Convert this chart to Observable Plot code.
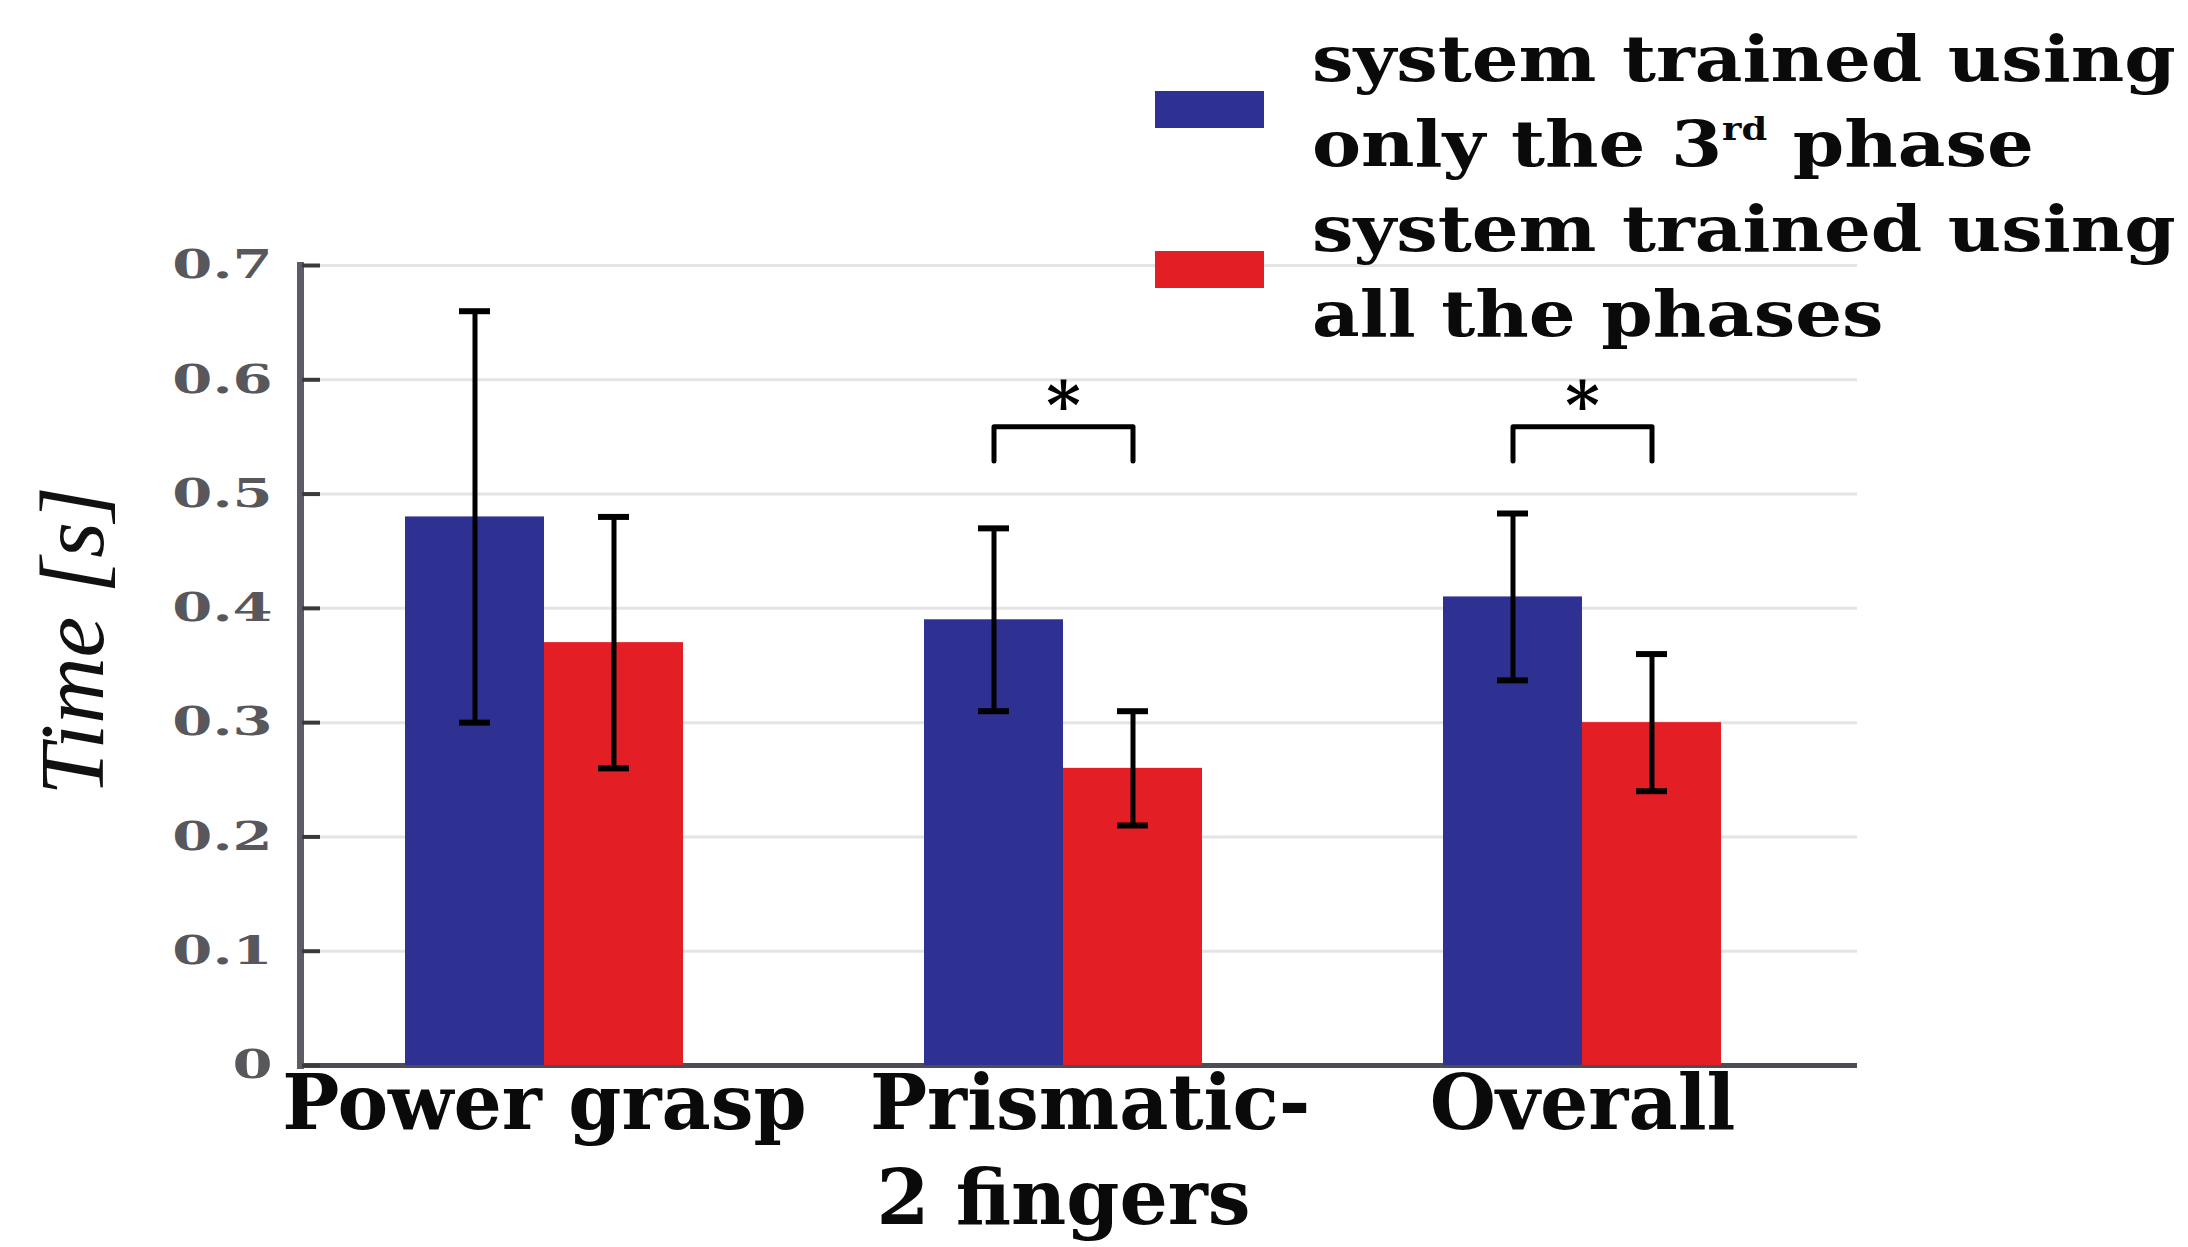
<!DOCTYPE html>
<html><head><meta charset="utf-8">
<script src="https://cdn.jsdelivr.net/npm/d3@7"></script>
<script src="https://cdn.jsdelivr.net/npm/@observablehq/plot@0.6"></script>
<style>
html,body{margin:0;padding:0;background:#fff;}
#wrap{position:relative;width:2188px;height:1247px;overflow:hidden;background:#fff;}
#chart svg{display:block;}
.sw{position:absolute;}
.lt{position:absolute;left:1312px;top:16px;font-family:"DejaVu Serif";font-weight:bold;font-size:64px;line-height:85px;color:#0a0a0a;white-space:nowrap;transform:scaleX(1.15);transform-origin:0 0;}
.lt sup{font-size:0.5em;line-height:0;vertical-align:0.8em;}
</style></head>
<body><div id="wrap"><div id="chart"></div><div id="legend"></div></div>
<script>
// ---- data ----
const groups = ["Power grasp", "Prismatic-2 fingers", "Overall"];
const groupLabels = ["Power grasp", "\u2002\u2009Prismatic-\n2 fingers", "Overall"];
const series = ["3rd phase only", "all phases"];
const seriesColors = ["#2E3192", "#E31E24"];
const legendLines = [["system trained using", "only the 3<sup>rd</sup> phase"], ["system trained using", "all the phases"]];
const meanThird = [0.48, 0.39, 0.41];
const lowThird  = [0.30, 0.31, 0.337];
const highThird = [0.66, 0.47, 0.483];
const meanAll = [0.37, 0.26, 0.30];
const lowAll  = [0.26, 0.21, 0.24];
const highAll = [0.48, 0.31, 0.36];
const yTicks = [0, 0.1, 0.2, 0.3, 0.4, 0.5, 0.6, 0.7];
const yTickLabels = ["0", "0.1", "0.2", "0.3", "0.4", "0.5", "0.6", "0.7"];
const sigGroups = ["Prismatic-2 fingers", "Overall"];
const bracketLow = 0.529, bracketHigh = 0.559, starY = 0.576;
const yLabel = "Time [s]";

// ---- tables built from arrays ----
const rows = [];
groups.forEach((g, i) => {
  rows.push({group: g, series: series[0], value: meanThird[i], lo: lowThird[i], hi: highThird[i]});
  rows.push({group: g, series: series[1], value: meanAll[i], lo: lowAll[i], hi: highAll[i]});
});
const brackets = [];
sigGroups.forEach(g => {
  brackets.push({group: g, series: series[0], y: bracketLow});
  brackets.push({group: g, series: series[0], y: bracketHigh});
  brackets.push({group: g, series: series[1], y: bracketHigh});
  brackets.push({group: g, series: series[1], y: bracketLow});
});

// ---- layout ----
const W = 2188, H = 1247;
const mL = 300, mR = 331, mT = 265, mB = 182;
const innerInsetRight = 31;

const chart = Plot.plot({
  width: W, height: H,
  marginLeft: mL, marginRight: mR, marginTop: mT, marginBottom: mB,
  style: {background: "#fff"},
  fx: {domain: groups, padding: 0},
  x: {domain: series, paddingInner: 0, paddingOuter: 0.749, insetRight: innerInsetRight, axis: null},
  y: {domain: [0, 0.7]},
  color: {domain: series, range: seriesColors},
  marks: [
    Plot.gridY(yTicks, {stroke: "#e4e4e4", strokeOpacity: 1, strokeWidth: 3}),
    Plot.ruleY([0], {stroke: "#4c4c56", strokeWidth: 5}),
    Plot.barY(rows, {fx: "group", x: "series", y: "value", fill: "series"}),
    Plot.ruleX(rows, {fx: "group", x: "series", y1: "lo", y2: "hi", stroke: "#000", strokeWidth: 5}),
    Plot.tickY(rows, {fx: "group", x: "series", y: "lo", stroke: "#000", strokeWidth: 6, insetLeft: 54, insetRight: 54}),
    Plot.tickY(rows, {fx: "group", x: "series", y: "hi", stroke: "#000", strokeWidth: 6, insetLeft: 54, insetRight: 54}),
    Plot.line(brackets, {fx: "group", x: "series", y: "y", z: "group", stroke: "#000", strokeWidth: 5}),
    Plot.text(sigGroups, {fx: d => d, y: () => starY, text: () => "*", dx: -innerInsetRight / 2, fontSize: 66, fontWeight: "bold", fontFamily: "DejaVu Serif", fill: "#000"}),
    Plot.frame({anchor: "left", facetAnchor: "left", stroke: "#5c5c66", strokeWidth: 7}),
    Plot.axisY(yTicks, {anchor: "left", tickSize: 18, dx: 20, tickPadding: 30, strokeWidth: 4, stroke: "#3a3a3a",
      tickFormat: d => yTickLabels[yTicks.indexOf(d)], fill: "#58585c",
      fontSize: 40, fontWeight: "bold", fontFamily: "DejaVu Serif", label: null}),
    Plot.axisFx({anchor: "bottom", tickSize: 0, tickPadding: 0, dx: -innerInsetRight / 2, dy: -4,
      tickFormat: d => groupLabels[groups.indexOf(d)], fill: "#0a0a0a",
      fontSize: 76, fontWeight: "bold", fontFamily: "DejaVu Serif", lineHeight: 1.25, label: null}),
    Plot.text([yLabel], {facetAnchor: "left", frameAnchor: "left", rotate: -90, dx: -(mL - 73), dy: 130,
      fontSize: 92, fontStyle: "italic", fontFamily: "Liberation Serif", fill: "#111"})
  ]
});
document.getElementById("chart").appendChild(chart);

// widen the y tick labels like the reference's broad numerals
chart.querySelectorAll('g[aria-label="y-axis tick label"] text').forEach(t => {
  const w = t.getComputedTextLength();
  t.setAttribute("textLength", (w * 1.44).toFixed(1));
  t.setAttribute("lengthAdjust", "spacingAndGlyphs");
});

// ---- legend (overlaps the plot's top right, as in the reference) ----
const legend = document.getElementById("legend");
const swatchTops = [91, 251];
series.forEach((s, i) => {
  const sw = document.createElement("div");
  sw.className = "sw";
  sw.style.cssText = `left:1155px;top:${swatchTops[i]}px;width:109px;height:37px;background:${seriesColors[i]};`;
  legend.appendChild(sw);
});
const lt = document.createElement("div");
lt.className = "lt";
lt.innerHTML = legendLines.map(l => l.join("<br>")).join("<br>");
legend.appendChild(lt);
</script>
</body></html>
